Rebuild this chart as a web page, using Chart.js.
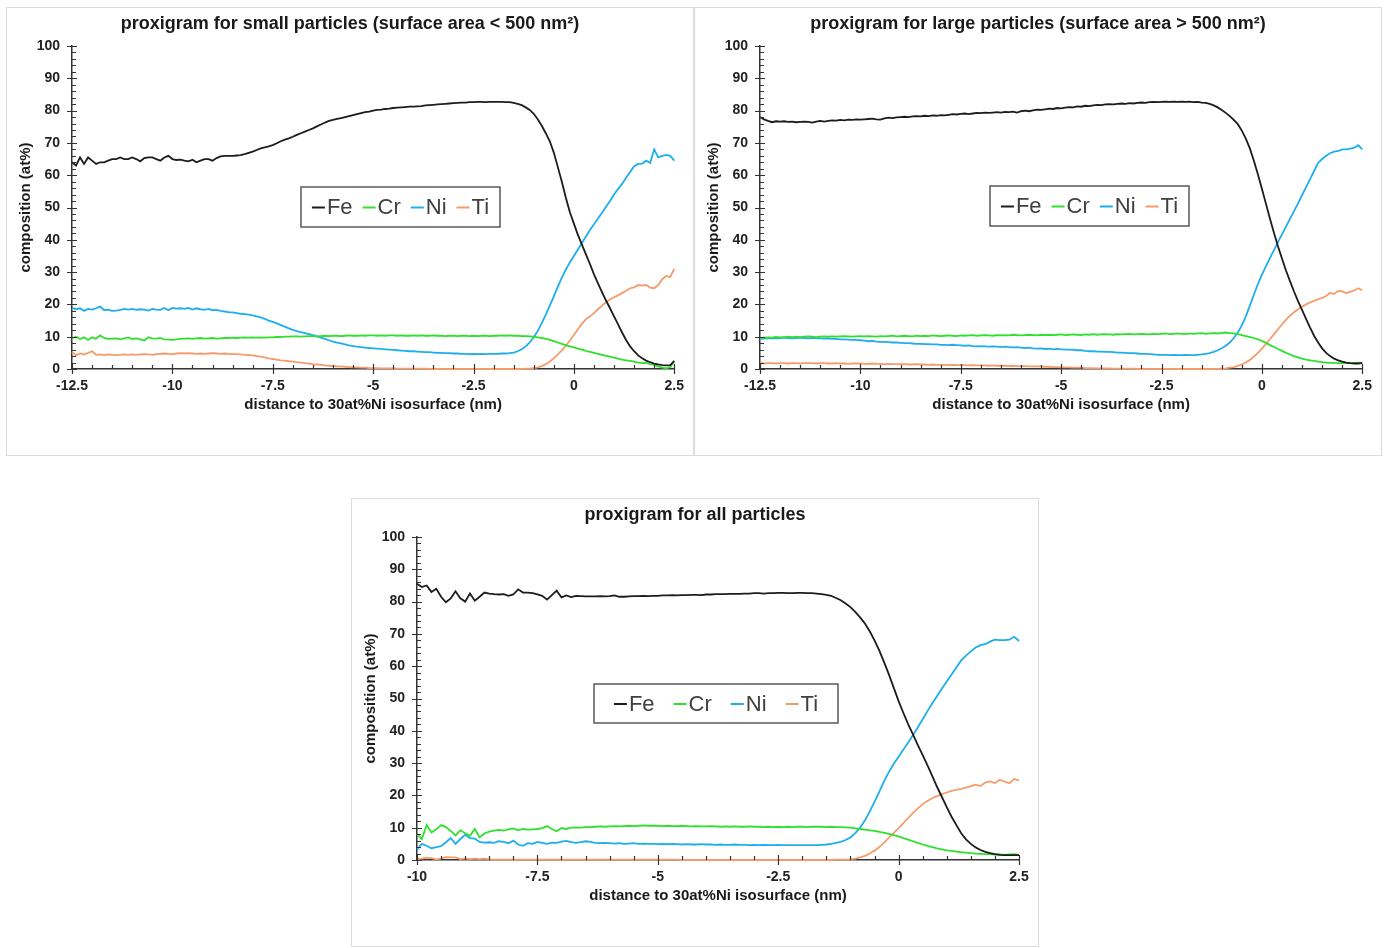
<!DOCTYPE html>
<html>
<head>
<meta charset="utf-8">
<script src="https://cdn.jsdelivr.net/npm/chart.js@4.4.1/dist/chart.umd.min.js"></script>
<style>
  body { margin: 0; background: #fff; width: 1390px; height: 948px; position: relative; overflow: hidden; }
  .box { position: absolute; width: 686px; height: 447px; border: 1px solid #dcdcdc; background: #fff; }
</style>
</head>
<body>
<div class="box" style="left:6px;top:7px"><canvas id="small"></canvas></div>
<div class="box" style="left:694px;top:7px"><canvas id="large"></canvas></div>
<div class="box" style="left:351px;top:498px"><canvas id="all"></canvas></div>
<script>
// distance to 30at%Ni isosurface (nm)
const dist125 = [-12.5,-12.4,-12.3,-12.2,-12.1,-12,
  -11.9,-11.8,-11.7,-11.6,-11.5,-11.4,-11.3,-11.2,-11.1,-11,
  -10.9,-10.8,-10.7,-10.6,-10.5,-10.4,-10.3,-10.2,-10.1,-10,
  -9.9,-9.8,-9.7,-9.6,-9.5,-9.4,-9.3,-9.2,-9.1,-9,
  -8.9,-8.8,-8.7,-8.6,-8.5,-8.4,-8.3,-8.2,-8.1,-8,
  -7.9,-7.8,-7.7,-7.6,-7.5,-7.4,-7.3,-7.2,-7.1,-7,
  -6.9,-6.8,-6.7,-6.6,-6.5,-6.4,-6.3,-6.2,-6.1,-6,
  -5.9,-5.8,-5.7,-5.6,-5.5,-5.4,-5.3,-5.2,-5.1,-5,
  -4.9,-4.8,-4.7,-4.6,-4.5,-4.4,-4.3,-4.2,-4.1,-4,
  -3.9,-3.8,-3.7,-3.6,-3.5,-3.4,-3.3,-3.2,-3.1,-3,
  -2.9,-2.8,-2.7,-2.6,-2.5,-2.4,-2.3,-2.2,-2.1,-2,
  -1.9,-1.8,-1.7,-1.6,-1.5,-1.4,-1.3,-1.2,-1.1,-1,
  -0.9,-0.8,-0.7,-0.6,-0.5,-0.4,-0.3,-0.2,-0.1,0,
  0.1,0.2,0.3,0.4,0.5,0.6,0.7,0.8,0.9,1,
  1.1,1.2,1.3,1.4,1.5,1.6,1.7,1.8,1.9,2,
  2.1,2.2,2.3,2.4,2.5];

const dist10 = [-10,-9.9,-9.8,-9.7,-9.6,-9.5,-9.4,-9.3,-9.2,-9.1,
  -9,-8.9,-8.8,-8.7,-8.6,-8.5,-8.4,-8.3,-8.2,-8.1,
  -8,-7.9,-7.8,-7.7,-7.6,-7.5,-7.4,-7.3,-7.2,-7.1,
  -7,-6.9,-6.8,-6.7,-6.6,-6.5,-6.4,-6.3,-6.2,-6.1,
  -6,-5.9,-5.8,-5.7,-5.6,-5.5,-5.4,-5.3,-5.2,-5.1,
  -5,-4.9,-4.8,-4.7,-4.6,-4.5,-4.4,-4.3,-4.2,-4.1,
  -4,-3.9,-3.8,-3.7,-3.6,-3.5,-3.4,-3.3,-3.2,-3.1,
  -3,-2.9,-2.8,-2.7,-2.6,-2.5,-2.4,-2.3,-2.2,-2.1,
  -2,-1.9,-1.8,-1.7,-1.6,-1.5,-1.4,-1.3,-1.2,-1.1,
  -1,-0.9,-0.8,-0.7,-0.6,-0.5,-0.4,-0.3,-0.2,-0.1,
  0,0.1,0.2,0.3,0.4,0.5,0.6,0.7,0.8,0.9,
  1,1.1,1.2,1.3,1.4,1.5,1.6,1.7,1.8,1.9,
  2,2.1,2.2,2.3,2.4,2.5];

// small particles (surface area < 500 nm²)
const smallFe = [64,63,65.5,63.5,65.5,64.5,
  63.5,64,64,64.5,65,65,65.5,65,65,65.5,
  65,64.3,65.3,65.5,65.5,65,64.5,65.5,66,65,
  64.7,64.8,64.5,64.3,64.8,64,64.5,65,65,64.5,
  65.3,65.8,66,66,66,66.1,66.2,66.5,66.9,67.3,
  67.8,68.3,68.6,68.9,69.3,69.9,70.5,71,71.4,71.9,
  72.5,73,73.5,74,74.5,75.1,75.7,76.3,76.8,77.1,
  77.4,77.7,78,78.3,78.6,78.9,79.2,79.5,79.7,80,
  80.2,80.3,80.5,80.6,80.8,80.9,81,81.1,81.2,81.2,
  81.3,81.4,81.6,81.7,81.8,81.9,82,82.1,82.2,82.3,
  82.4,82.5,82.5,82.6,82.6,82.7,82.7,82.6,82.7,82.7,
  82.7,82.7,82.6,82.6,82.4,82.1,81.7,81,80.2,79,
  77.3,75.3,73,70.5,67,62.5,58,53,48.5,45,
  41.5,38.5,35.5,32.5,29.3,26.5,23.8,21.2,18.8,16.3,
  13.8,11.3,9,7,5.5,4.2,3.3,2.6,2.1,1.7,
  1.4,1.2,1.1,1.2,2.5];
const smallCr = [9.5,10,9.3,9.8,9,9.8,
  9.4,10.4,9.6,9.3,9.4,9.5,9.2,9.5,9.8,9.3,
  9.5,9.2,8.8,9.8,9.5,9.4,9.6,9.2,9.1,9,
  9.2,9.3,9.4,9.5,9.3,9.5,9.6,9.4,9.5,9.6,
  9.4,9.5,9.6,9.6,9.7,9.6,9.7,9.8,9.7,9.8,
  9.7,9.8,9.7,9.8,9.8,9.9,9.9,10,10,10.1,
  10.1,10,10.1,10.2,10.2,10.1,10.2,10.3,10.2,10.3,
  10.3,10.2,10.3,10.4,10.3,10.3,10.4,10.3,10.4,10.4,
  10.3,10.4,10.3,10.4,10.4,10.3,10.4,10.3,10.3,10.4,
  10.3,10.4,10.3,10.3,10.4,10.3,10.3,10.2,10.3,10.3,
  10.2,10.3,10.3,10.2,10.3,10.2,10.3,10.3,10.2,10.3,
  10.3,10.4,10.3,10.4,10.3,10.3,10.2,10.2,10.1,10,
  9.8,9.6,9.3,9,8.6,8.2,7.8,7.4,7,6.7,
  6.3,6,5.6,5.3,5,4.7,4.4,4.1,3.8,3.5,
  3.2,2.9,2.7,2.5,2.3,2,1.8,1.9,1.5,1.3,
  0.8,0.4,0.2,0.6,2.3];
const smallNi = [19,18.5,18.8,18,18.6,18.4,
  18.8,19.3,18.2,18.4,18,18.1,18.3,18.6,18.4,18.6,
  18.3,18.5,18.4,18.1,18.6,18.4,18.3,18.9,18.2,18.9,
  18.7,18.8,18.6,18.9,18.4,18.8,18.5,18.3,18.6,18.2,
  18.3,18,17.8,17.6,17.5,17.3,17.1,17,16.8,16.6,
  16.3,16,15.5,15,14.6,14.1,13.6,13.1,12.6,12.1,
  11.7,11.4,11.1,10.8,10.5,10.1,9.7,9.3,8.9,8.5,
  8.2,7.9,7.6,7.3,7.1,6.9,6.8,6.6,6.5,6.4,
  6.3,6.2,6.1,6,5.9,5.8,5.7,5.6,5.5,5.5,
  5.4,5.3,5.2,5.2,5.1,5,5,4.9,4.9,4.8,
  4.8,4.7,4.7,4.6,4.7,4.6,4.7,4.6,4.7,4.7,
  4.7,4.8,4.8,4.9,5.1,5.5,6.1,7,8.2,9.8,
  11.8,14.2,16.8,19.6,22.5,25.5,28.3,30.8,33,35,
  37,39,41,43,44.8,46.6,48.4,50.2,52,54,
  55.7,57.3,59.2,61,62.8,63.5,63.6,64.5,63.8,68,
  65.5,66,66.3,66,64.5];
const smallTi = [5.3,4.2,4.8,4.5,5,5.5,
  4.4,4.5,4.3,4.5,4.4,4.3,4.4,4.5,4.4,4.5,
  4.4,4.5,4.6,4.5,4.4,4.6,4.7,4.8,4.7,4.6,
  4.8,4.9,4.8,4.9,4.8,4.7,4.8,4.7,4.8,4.9,
  4.8,4.7,4.8,4.7,4.6,4.6,4.5,4.4,4.3,4.2,
  4,3.8,3.6,3.3,3.1,2.9,2.7,2.6,2.4,2.3,
  2.1,2,1.8,1.7,1.5,1.4,1.3,1.1,1,0.9,
  0.8,0.8,0.7,0.6,0.5,0.5,0.4,0.4,0.3,0.3,
  0.3,0.2,0.2,0.2,0.2,0.1,0.1,0.1,0.1,0.1,
  0.1,0.1,0.1,0,0,0,0,0,0,0,
  0,0,0,0,0,0,0,0,0,0,
  0,0,0,0,0,0,0,0.1,0.1,0.3,
  0.5,0.9,1.5,2.3,3.3,4.5,5.8,7.2,8.8,10.5,
  12.3,14,15.4,16.3,17.3,18.5,19.6,20.7,21.5,22.2,
  22.8,23.5,24.2,25,25.3,26,25.8,26,25.2,25,
  26,27.8,28.8,28.5,31];

// large particles (surface area > 500 nm²)
const largeFe = [78,77.3,76.8,76.4,76.7,76.6,
  76.7,76.5,76.6,76.4,76.5,76.6,76.5,76.3,76.6,76.8,
  76.6,76.8,77,76.9,77.1,77,77.2,77.1,77.3,77.2,
  77.3,77.4,77.5,77.3,77.2,77.6,77.8,77.7,77.9,78,
  78.1,78,78.2,78.3,78.2,78.4,78.3,78.5,78.4,78.6,
  78.5,78.7,78.9,78.8,79,79.1,78.9,79.1,79.3,79.2,
  79.4,79.3,79.4,79.5,79.4,79.6,79.5,79.7,79.4,79.8,
  80,79.8,80.1,80.3,80.2,80.4,80.6,80.5,80.8,80.7,
  80.9,81.1,81,81.3,81.2,81.5,81.4,81.6,81.8,81.7,
  81.9,82,81.9,82.1,82.2,82.1,82.3,82.2,82.4,82.5,
  82.4,82.6,82.7,82.6,82.7,82.8,82.7,82.8,82.7,82.8,
  82.7,82.8,82.6,82.7,82.5,82.4,82.1,81.6,81,80.2,
  79.3,78.3,77.1,75.8,73.8,71.3,68.3,64.5,60.3,55.8,
  51.2,46.6,42.2,38,34.2,30.5,27.2,24,21,18.3,
  15.5,12.8,10.3,8.2,6.4,5,4,3.2,2.7,2.3,
  2,1.8,1.7,1.7,1.8];
const largeCr = [9.6,9.7,9.8,9.7,9.9,9.8,
  9.9,10,9.9,10,9.9,10,10.1,10,9.9,10,
  10.1,10,10.1,10,10.1,10.2,10.1,10,10.1,10.2,
  10.1,10.2,10.1,10,10.2,10.1,10.2,10.3,10.1,10.2,
  10.3,10.2,10.1,10.3,10.2,10.3,10.2,10.4,10.3,10.2,
  10.3,10.4,10.3,10.2,10.4,10.3,10.4,10.5,10.3,10.4,
  10.5,10.4,10.3,10.5,10.4,10.5,10.4,10.6,10.5,10.4,
  10.5,10.6,10.5,10.4,10.6,10.5,10.6,10.5,10.6,10.7,
  10.5,10.6,10.7,10.6,10.5,10.7,10.6,10.8,10.6,10.7,
  10.8,10.7,10.6,10.8,10.7,10.8,10.9,10.7,10.8,10.9,
  10.8,10.7,10.9,10.8,10.9,11,10.8,10.9,11,10.9,
  10.8,11,10.9,11,11.1,10.9,11,11.1,11,11.2,
  11.3,11.1,11,10.8,10.5,10.2,9.9,9.6,9.2,8.7,
  8.1,7.4,6.8,6.2,5.6,5,4.5,4,3.6,3.2,
  2.9,2.7,2.5,2.3,2.1,2,1.9,1.9,1.8,1.8,
  1.9,1.8,1.9,2,1.9];
const largeNi = [9.3,9.4,9.5,9.6,9.5,9.6,
  9.7,9.6,9.5,9.6,9.7,9.6,9.5,9.6,9.6,9.5,
  9.4,9.5,9.3,9.3,9.2,9.2,9.1,9,9,8.9,
  8.8,8.6,8.7,8.5,8.4,8.4,8.3,8.2,8.2,8.1,
  8,8,7.9,7.8,7.8,7.7,7.7,7.6,7.6,7.5,
  7.5,7.4,7.5,7.4,7.3,7.2,7.3,7.1,7,7.1,
  7,6.9,7,6.9,6.8,6.9,6.8,6.7,6.8,6.6,
  6.5,6.6,6.4,6.3,6.4,6.2,6.3,6.1,6.2,6.1,
  6,6,5.9,5.8,5.8,5.6,5.5,5.5,5.4,5.4,
  5.3,5.3,5.2,5.1,5.1,5,4.9,4.9,4.8,4.7,
  4.7,4.6,4.5,4.4,4.4,4.4,4.3,4.4,4.3,4.3,
  4.4,4.3,4.3,4.4,4.5,4.7,4.9,5.3,5.8,6.4,
  7.2,8.2,9.6,11.3,13.5,16.3,19.6,23,26.3,29.2,
  31.8,34.3,36.8,39.3,41.7,44.1,46.5,48.9,51.3,53.8,
  56.3,58.8,61.3,63.8,65,66,66.8,67.3,67.5,68,
  68,68.2,68.5,69.3,68];
const largeTi = [1.9,1.7,1.8,1.8,1.7,1.8,
  1.8,1.7,1.8,1.8,1.7,1.8,1.8,1.8,1.7,1.8,
  1.8,1.7,1.7,1.8,1.7,1.7,1.6,1.7,1.7,1.7,
  1.6,1.6,1.7,1.6,1.6,1.5,1.6,1.5,1.5,1.5,
  1.5,1.4,1.4,1.5,1.4,1.4,1.3,1.4,1.3,1.3,
  1.3,1.2,1.3,1.2,1.2,1.2,1.1,1.2,1.1,1.1,
  1.1,1,1.1,1,1,1,0.9,1,0.9,0.9,
  0.9,0.8,0.8,0.8,0.8,0.7,0.7,0.6,0.6,0.5,
  0.5,0.5,0.4,0.4,0.4,0.3,0.3,0.3,0.2,0.2,
  0.2,0.2,0.1,0.1,0.1,0.1,0.1,0.1,0,0,
  0,0,0,0,0,0,0,0,0,0,
  0,0,0,0,0,0,0,0,0,0.1,
  0.2,0.4,0.6,1,1.4,2,2.8,3.8,5,6.3,
  7.7,9.2,10.8,12.3,13.8,15.2,16.5,17.6,18.5,19.3,
  20,20.6,21.1,21.6,22,22.6,23.6,23.2,24.2,24,
  23.5,23.9,24.3,25,24.4];

// all particles
const allFe = [85.5,84.5,85,83,84,81.5,79.8,81,83.2,81,
  80,82.5,80.3,81.5,82.8,82.5,82.3,82.2,82.3,81.8,
  82.2,83.8,82.8,82.8,82.6,82.2,81.8,80.6,82,83.4,
  81.3,81.9,81.4,81.8,81.7,81.6,81.6,81.6,81.7,81.6,
  81.7,81.9,81.5,81.5,81.6,81.7,81.7,81.8,81.7,81.8,
  81.8,81.9,81.9,82,81.9,82,82,82.1,82.1,82,
  82.2,82.2,82.3,82.3,82.3,82.4,82.4,82.4,82.5,82.5,
  82.6,82.6,82.5,82.6,82.6,82.7,82.7,82.6,82.6,82.7,
  82.7,82.6,82.6,82.5,82.3,82.1,81.8,81.1,80.4,79.4,
  78.3,76.8,75.1,73.2,70.8,68,64.8,61.2,57.4,53.3,
  49.2,45.5,42,38.8,35.6,32.5,29.3,26,22.6,19.5,
  16.4,13.4,10.8,8.3,6.4,5,3.9,3.1,2.5,2.1,
  1.8,1.6,1.5,1.5,1.5,1.5];
const allCr = [8,6.5,10.8,8.5,9.5,10.8,10.2,9,7.6,9.2,
  8.3,7.5,9.6,7,8.2,8.8,9.1,9.3,9.1,9.5,
  9.8,9.2,9.6,9.4,9.5,9.6,9.9,10.5,9.6,8.9,
  9.9,9.6,10,10.1,10,10.2,10.2,10.3,10.4,10.3,
  10.4,10.5,10.4,10.5,10.6,10.5,10.6,10.7,10.6,10.6,
  10.6,10.5,10.6,10.5,10.5,10.6,10.5,10.4,10.5,10.4,
  10.4,10.5,10.4,10.3,10.4,10.3,10.4,10.3,10.3,10.4,
  10.3,10.3,10.2,10.3,10.2,10.3,10.2,10.3,10.2,10.3,
  10.3,10.2,10.3,10.3,10.3,10.2,10.3,10.2,10.2,10.1,
  10,9.8,9.6,9.4,9.2,9,8.7,8.4,8.1,7.7,
  7.3,6.8,6.3,5.8,5.3,4.8,4.4,4,3.6,3.3,
  3,2.8,2.6,2.4,2.3,2.1,2,1.9,1.8,1.8,
  1.7,1.7,1.6,1.7,1.8,1.6];
const allNi = [3.2,5,4.4,3.6,4,4.3,5.5,6.8,5,6.5,
  7.8,6.8,6.6,5.6,5.4,5.5,5.3,5.8,5.6,5.2,
  6,4.8,4.4,5.2,5,5.6,5.3,5,5.4,5.3,
  5.7,5.9,5.5,5.3,5.5,5.8,5.6,5.3,5.2,5.3,
  5.2,5.1,5.2,5,5.1,5.2,5,5.1,5,5,
  4.9,5,4.9,5,4.9,4.8,4.9,4.8,4.8,4.9,
  4.8,4.8,4.7,4.8,4.7,4.7,4.8,4.7,4.7,4.6,
  4.7,4.6,4.7,4.6,4.6,4.7,4.6,4.6,4.6,4.6,
  4.6,4.6,4.6,4.6,4.7,4.8,5,5.3,5.6,6.2,
  7,8.3,10,12.2,15,18,21.2,24.4,27.3,29.8,
  32,34.2,36.4,38.7,41.1,43.6,46.1,48.5,50.8,53.1,
  55.3,57.4,59.6,61.8,63.3,64.6,65.8,66.5,66.8,67.6,
  68.2,68.1,68.1,68.2,69.1,67.8];
const allTi = [0.2,0.4,0.7,0.6,0.2,0.4,0.9,0.8,0.8,0.3,
  0.4,0.3,0.4,0.3,0.4,0.2,0.1,0.1,0.1,0.1,
  0.1,0.1,0.1,0.1,0.1,0.1,0.1,0.1,0.1,0.1,
  0.1,0.1,0.1,0.1,0.1,0.1,0.1,0.1,0.1,0.1,
  0.1,0.1,0.1,0.1,0.1,0.1,0.1,0.1,0.1,0.1,
  0.1,0.1,0.1,0.1,0.1,0,0,0,0,0,
  0,0,0,0,0,0,0,0,0,0,
  0,0,0,0,0,0,0,0,0,0,
  0,0,0,0,0,0,0,0.1,0.1,0.1,
  0.2,0.4,0.8,1.3,2,2.9,4,5.4,6.9,8.4,
  9.9,11.4,13,14.6,16,17.3,18.3,19.2,19.8,20.4,
  20.9,21.4,21.7,22,22.4,22.9,23.3,22.9,24,24.3,
  23.8,24.8,24.3,23.8,25.1,24.6];

const elements = ['Fe', 'Cr', 'Ni', 'Ti'];
const colors = ['#1c1c1c', '#2fe02f', '#1eaeed', '#f59c6c'];
const FONT = '"Liberation Sans", Arial, sans-serif';

// Excel style ticks: major ticks cross the axis, minor ticks inside
const axisTicks = {
  id: 'axisTicks',
  afterDraw(chart) {
    const ctx = chart.ctx;
    const xs = chart.scales.x, ys = chart.scales.y;
    const area = chart.chartArea;
    ctx.save();
    ctx.strokeStyle = '#333';
    ctx.lineWidth = 1.2;
    ctx.beginPath();
    const nx = Math.round((xs.max - xs.min) / 0.5);
    for (let i = 0; i <= nx; i++) {
      const v = xs.min + i * 0.5;
      const px = Math.round(xs.getPixelForValue(v)) + 0.5;
      const major = Math.abs(v / 2.5 - Math.round(v / 2.5)) < 1e-6;
      ctx.moveTo(px, area.bottom + (major ? 5 : 0));
      ctx.lineTo(px, area.bottom - (major ? 5 : 4));
    }
    for (let v = 0; v <= 100; v += 2) {
      const py = Math.round(ys.getPixelForValue(v)) + 0.5;
      const major = v % 10 === 0;
      ctx.moveTo(area.left - (major ? 5 : 0), py);
      ctx.lineTo(area.left + (major ? 5 : 4), py);
    }
    ctx.stroke();
    ctx.restore();
  }
};

// boxed legend sitting inside the plot
const boxLegend = {
  id: 'boxLegend',
  afterDraw(chart, args, opts) {
    const ctx = chart.ctx, a = chart.chartArea;
    const x0 = a.left + opts.dx, y0 = a.top + opts.dy;
    ctx.save();
    ctx.fillStyle = '#fff';
    ctx.fillRect(x0, y0, opts.w, opts.h);
    ctx.strokeStyle = '#595959';
    ctx.lineWidth = 1.5;
    ctx.strokeRect(x0, y0, opts.w, opts.h);
    ctx.font = '22px ' + FONT;
    ctx.textBaseline = 'middle';
    const items = chart.data.datasets.map(d => ({
      label: d.label, color: d.borderColor, w: 15 + ctx.measureText(d.label).width
    }));
    const total = items.reduce((s, it) => s + it.w, 0) + opts.gap * (items.length - 1);
    let x = x0 + (opts.w - total) / 2;
    const cy = y0 + opts.h / 2;
    items.forEach(it => {
      ctx.strokeStyle = it.color;
      ctx.lineWidth = 2;
      ctx.beginPath();
      ctx.moveTo(x, cy + 0.5);
      ctx.lineTo(x + 13, cy + 0.5);
      ctx.stroke();
      ctx.fillStyle = '#404040';
      ctx.fillText(it.label, x + 15, cy + 1);
      x += it.w + opts.gap;
    });
    ctx.restore();
  }
};

function makeChart(id, title, dist, series, xMin, legend) {
  const datasets = series.map((vals, k) => ({
    label: elements[k],
    data: vals.map((v, i) => ({ x: dist[i], y: v })),
    borderColor: colors[k],
    backgroundColor: colors[k],
    borderWidth: 1.8,
    pointRadius: 0,
    tension: 0,
    clip: false
  }));
  return new Chart(document.getElementById(id), {
    type: 'line',
    data: { datasets: datasets },
    options: {
      responsive: true,
      maintainAspectRatio: false,
      animation: false,
      layout: { padding: { left: 0, right: 0, top: 0, bottom: 41 } },
      plugins: {
        legend: { display: false },
        tooltip: { enabled: false },
        title: {
          display: true, text: title, color: '#1a1a1a',
          font: { size: 18, weight: 'bold', family: FONT },
          padding: { top: 5, bottom: 11.4 }
        },
        boxLegend: legend
      },
      scales: {
        x: {
          type: 'linear', min: xMin, max: 2.5,
          afterFit: s => { s.height = 45; },
          ticks: {
            stepSize: 2.5, padding: 9, color: '#222', maxRotation: 0, autoSkip: false,
            font: { size: 14, weight: 'bold', family: FONT },
            callback: v => String(v)
          },
          grid: { drawOnChartArea: false, drawTicks: false },
          border: { color: '#333', width: 1.5 },
          title: {
            display: true, text: 'distance to 30at%Ni isosurface (nm)', color: '#1a1a1a',
            font: { size: 15, weight: 'bold', family: FONT },
            padding: { top: 0, bottom: 0 }
          }
        },
        y: {
          min: 0, max: 100,
          afterFit: s => { s.width = 65; },
          ticks: {
            stepSize: 10, padding: 12, color: '#222',
            font: { size: 14, weight: 'bold', family: FONT }
          },
          grid: { drawOnChartArea: false, drawTicks: false },
          border: { color: '#333', width: 1.5 },
          title: {
            display: true, text: 'composition (at%)', color: '#1a1a1a',
            font: { size: 15, weight: 'bold', family: FONT },
            padding: { top: 10, bottom: 0 }
          }
        },
        right: {
          position: 'right', min: 0, max: 100,
          afterFit: s => { s.width = legend.right; },
          ticks: { display: false },
          grid: { display: false },
          border: { display: false }
        }
      }
    },
    plugins: [axisTicks, boxLegend]
  });
}

makeChart('small', 'proxigram for small particles (surface area < 500 nm²)', dist125,
  [smallFe, smallCr, smallNi, smallTi], -12.5,
  { dx: 229, dy: 141, w: 199, h: 40, gap: 10, right: 18 });
makeChart('large', 'proxigram for large particles (surface area > 500 nm²)', dist125,
  [largeFe, largeCr, largeNi, largeTi], -12.5,
  { dx: 230, dy: 140, w: 199, h: 40, gap: 10, right: 18 });
makeChart('all', 'proxigram for all particles', dist10,
  [allFe, allCr, allNi, allTi], -10,
  { dx: 177, dy: 147, w: 244, h: 39, gap: 19, right: 19 });
</script>
</body>
</html>
